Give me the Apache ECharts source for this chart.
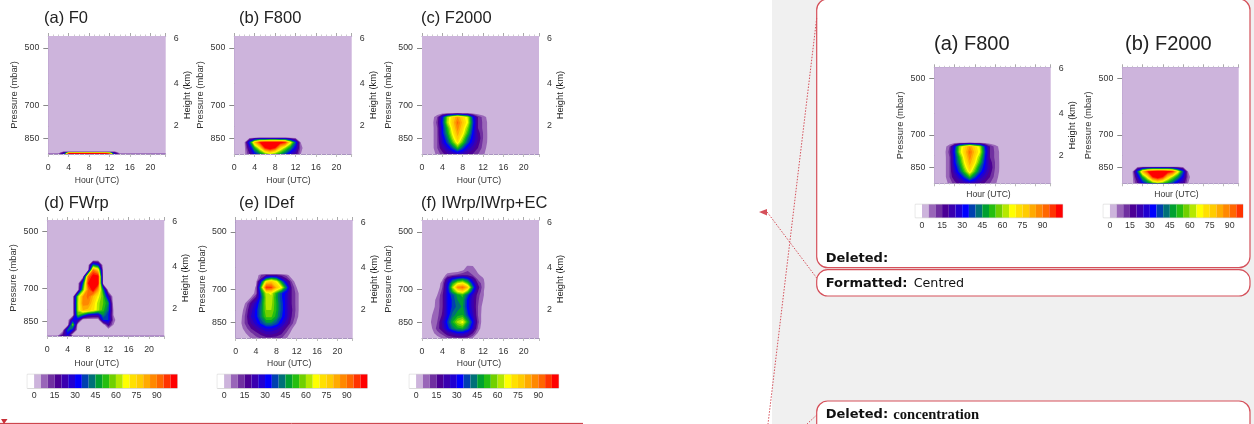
<!DOCTYPE html>
<html><head><meta charset="utf-8">
<style>html,body{margin:0;padding:0;background:#fff}#c{width:1254px;height:424px}</style>
<script src="https://cdn.jsdelivr.net/npm/echarts@6/dist/echarts.min.js"></script>
</head><body><div id="c"></div>
<script>
// colour scale: one colour per 5-unit band, from [-5,0) to [100,105)
const bandStarts = [-5,0,5,10,15,20,25,30,35,40,45,50,55,60,65,70,75,80,85,90,95,100];
const bandColors = ['#FFFFFF','#CDB4DC','#9966B8','#7030A0','#4B0095','#3A00B0','#2000D0','#0000FF','#0040B0','#007078','#00A030','#25BE10','#70D000','#B5E800','#FFFF00','#FFE000','#FFCC00','#FFAA00','#FF8800','#FF6600','#FF3300','#FF0000'];
const colorbarTicks = [0,15,30,45,60,75,90];
const pressureTicks = [500,700,850];
const heightTickPressures = [472,615,790];
const heightTickLabels = ['6','4','2'];
const hourTicks = [0,4,8,12,16,20];
const hours = [0,1,2,3,4,5,6,7,8,9,10,11,12,13,14,23];

// each field: pressure rows from the ground up, one row of values per pressure
const pF0 = [935,927,922,917];
const vF0 = [
 [20,20,20,20,102,102,102,102,102,102,102,102,102,20,20,20],
 [0,0,0,20,102,102,102,102,102,102,102,102,90,20,0,0],
 [0,0,0,18,20,20,20,20,20,20,20,20,20,18,0,0],
 [0,0,0,0,0,0,0,0,0,0,0,0,0,0,0,0]];
const pF800 = [935,900,870,845];
const vF800 = [
 [0,0,3,15,30,40,50,58,52,45,35,25,20,5,0,0],
 [0,0,3,25,50,70,100,110,100,75,60,45,30,8,0,0],
 [0,0,4,40,80,100,106,108,108,106,100,70,40,5,0,0],
 [0,0,0,0,0,0,0,0,0,0,0,0,0,0,0,0]];
const pF2000 = [935,900,870,850,825,800,775,750,732];
const vF2000 = [
 [0,0,1,7,12,18,20,22,22,18,14,10,6,2,0,0],
 [0,0,3,10,20,28,38,52,38,28,22,15,8,3,0,0],
 [0,0,3,10,26,38,55,72,55,38,28,18,9,4,0,0],
 [0,0,3,10,28,42,62,78,62,42,30,20,10,4,0,0],
 [0,0,3,10,32,48,68,83,70,52,32,18,10,4,0,0],
 [0,0,3,10,32,52,72,88,74,58,35,15,9,4,0,0],
 [0,0,3,12,35,62,76,92,78,66,38,15,9,4,0,0],
 [0,0,2,10,32,60,74,85,74,64,35,15,8,3,0,0],
 [0,0,0,0,0,0,0,0,0,0,0,0,0,0,0,0]];
const pFWrp = [935,920,895,868,843,819,796,764,735,706,679,653,628,610,592];
const vFWrp = [
 [20,20,20,20,20,20,20,20,20,20,20,20,20,20,20,20],
 [0,0,0,15,30,0,0,0,0,0,0,0,0,0,0,0],
 [0,0,0,0,42,30,0,0,0,0,0,0,0,0,0,0],
 [0,0,0,0,0,60,0,0,0,0,0,0,20,5,0,0],
 [0,0,0,0,0,30,28,0,0,0,0,35,35,8,0,0],
 [0,0,0,0,0,0,55,45,30,25,25,45,35,5,0,0],
 [0,0,0,0,0,0,62,80,78,72,62,52,40,5,0,0],
 [0,0,0,0,0,0,62,88,88,75,62,55,45,0,0,0],
 [0,0,0,0,0,0,60,85,92,80,68,55,25,0,0,0],
 [0,0,0,0,0,0,0,55,90,105,85,45,0,0,0,0],
 [0,0,0,0,0,0,0,40,100,105,105,0,0,0,0,0],
 [0,0,0,0,0,0,0,0,90,105,105,0,0,0,0,0],
 [0,0,0,0,0,0,0,0,0,90,75,0,0,0,0,0],
 [0,0,0,0,0,0,0,0,0,45,35,0,0,0,0,0],
 [0,0,0,0,0,0,0,0,0,0,0,0,0,0,0,0]];
const pIDef = [935,907,881,855,822,791,761,734,717,693,669,657,644,638];
const vIDef = [
 [0,0,0,5,8,10,12,12,12,10,5,0,0,0,0,0],
 [0,0,5,9,13,18,22,22,20,16,9,3,0,0,0,0],
 [0,3,8,15,20,26,30,30,27,22,14,6,0,0,0,0],
 [0,4,12,20,28,36,44,44,38,30,22,12,4,0,0,0],
 [0,3,12,25,32,44,56,56,48,36,27,15,7,0,0,0],
 [0,1,10,22,32,44,60,60,50,38,27,16,8,0,0,0],
 [0,0,6,18,28,42,62,62,50,38,27,15,8,0,0,0],
 [0,0,0,5,16,38,62,64,48,36,27,15,8,0,0,0],
 [0,0,0,0,8,42,64,66,50,36,28,15,8,0,0,0],
 [0,0,0,0,6,55,100,98,80,68,42,15,5,0,0,0],
 [0,0,0,0,3,35,72,78,68,45,25,10,0,0,0,0],
 [0,0,0,0,0,15,40,50,45,25,15,5,0,0,0,0],
 [0,0,0,0,0,10,15,15,15,12,8,0,0,0,0,0],
 [0,0,0,0,0,0,0,0,0,0,0,0,0,0,0,0]];
const pIWrp = [935,907,881,849,814,776,746,724,710,692,676,660,644,625,611,603];
const vIWrp = [
 [0,0,0,2,5,8,10,12,12,10,4,0,0,0,0,0],
 [0,0,3,8,12,20,24,28,28,24,15,4,0,0,0,0],
 [0,3,5,12,20,32,42,48,50,40,26,9,0,0,0,0],
 [0,2,6,10,22,36,50,62,68,50,32,12,1,0,0,0],
 [0,0,5,8,16,30,42,48,50,36,25,10,2,0,0,0],
 [0,0,3,7,14,30,36,42,46,32,22,10,3,0,0,0],
 [0,0,2,7,14,30,36,45,48,32,22,11,5,0,0,0],
 [0,0,0,5,14,30,38,48,52,38,24,12,6,0,0,0],
 [0,0,0,3,12,30,50,65,72,55,32,15,6,0,0,0],
 [0,0,0,0,10,30,62,88,92,78,42,18,7,0,0,0],
 [0,0,0,0,8,28,50,65,70,55,32,14,7,0,0,0],
 [0,0,0,0,4,22,35,42,46,38,22,9,6,0,0,0],
 [0,0,0,0,0,8,10,12,14,14,10,6,3,0,0,0],
 [0,0,0,0,0,0,0,0,4,9,8,3,0,0,0,0],
 [0,0,0,0,0,0,0,0,0,6,5,0,0,0,0,0],
 [0,0,0,0,0,0,0,0,0,0,0,0,0,0,0,0]];

const panels = [
 {title:'(a) F0',  p:pF0,  v:vF0,  box:[48.3,36,117.4,118], py:[466,932], ts:44, tc:18.3, fs:16.5, hs:10, ng:22},
 {title:'(b) F800',p:pF800,v:vF800,box:[234.3,36,117.4,118], py:[466,932], ts:239,tc:18.3, fs:16.5, hs:4.5, ng:22},
 {title:'(c) F2000',p:pF2000,v:vF2000,box:[422,36,117,118], py:[466,932], ts:421,tc:18.3, fs:16.5, hs:1.5, ng:22},
 {title:'(d) FWrp',p:pFWrp,v:vFWrp,box:[47.3,220,117,116], py:[468,927], ts:44, tc:203, fs:16.5, hs:9, ng:23.5},
 {title:'(e) IDef',p:pIDef,v:vIDef,box:[235.7,220,117,118], py:[466,932], ts:239,tc:203, fs:16.5, hs:5, ng:21.5},
 {title:'(f) IWrp/IWrp+EC',p:pIWrp,v:vIWrp,box:[422,220,117,118], py:[466,932], ts:421,tc:203, fs:16.5, hs:1.5, ng:21.5},
 {title:'(a) F800',p:pF2000,v:vF2000,box:[934.3,67.3,116.4,116], py:[468,934], ts:934,tc:44, fs:20, hs:4, ng:7, inner:true},
 {title:'(b) F2000',p:pF800,v:vF800,box:[1122.3,67.3,116.4,116], py:[468,934], ts:1125,tc:44, fs:20, hs:4, ng:7, inner:true, noRight:true}
];
const colorbars = [
 {box:[27.3,374.3,150,14], max:105},
 {box:[217.3,374.3,150,14], max:105},
 {box:[409.3,374.3,149.4,14], max:105},
 {box:[915.3,204.3,147.4,13.4], max:105},
 {box:[1103.3,204.3,139.7,13.4], max:100}
];

const FONT = '"Liberation Sans", Arial, sans-serif';
const TEXT = '#333333';
const EDGE = '#A994C0';

function clipQuad(pts, vals, L){
  const out = [];
  for (let i=0;i<4;i++){
    const j=(i+1)%4, a=vals[i], b=vals[j];
    if (a>=L) out.push(pts[i]);
    if ((a>=L)!==(b>=L)){
      const t=(L-a)/(b-a);
      out.push([pts[i][0]+t*(pts[j][0]-pts[i][0]), pts[i][1]+t*(pts[j][1]-pts[i][1])]);
    }
  }
  return out;
}
function contourRender(panel){
  return function(params, api){
    const L = api.value(0);
    const idx = bandStarts.indexOf(L);
    let d = '';
    for (let r=0;r<panel.p.length-1;r++){
      for (let c=0;c<hours.length-1;c++){
        const vals=[panel.v[r][c],panel.v[r][c+1],panel.v[r+1][c+1],panel.v[r+1][c]];
        if (Math.max.apply(null,vals)<L) continue;
        const pts=[
          api.coord([hours[c],panel.p[r]]),
          api.coord([hours[c+1],panel.p[r]]),
          api.coord([hours[c+1],panel.p[r+1]]),
          api.coord([hours[c],panel.p[r+1]])];
        const poly=clipQuad(pts,vals,L);
        if (poly.length<3) continue;
        d+='M'+poly.map(q=>q[0].toFixed(2)+' '+q[1].toFixed(2)).join('L')+'Z';
      }
    }
    if(!d) return;
    return {type:'path',shape:{pathData:d},style:{fill:bandColors[idx]}};
  };
}
function barRender(params, api){
  const s=api.value(0), i=bandStarts.indexOf(s);
  const a=api.coord([s,0]), b=api.coord([s+5,1]);
  return {type:'rect',shape:{x:a[0],y:b[1],width:b[0]-a[0],height:a[1]-b[1]},style:{fill:bandColors[i]}};
}

const option = {animation:false,backgroundColor:'#fff',textStyle:{fontFamily:FONT},
  grid:[],xAxis:[],yAxis:[],series:[],title:[],graphic:[]};
const contourLevels = bandStarts.filter(s=>s>=5);

panels.forEach(P=>{
  const g=option.grid.length;
  option.grid.push({left:P.box[0],top:P.box[1],width:P.box[2],height:P.box[3],show:true,backgroundColor:bandColors[1],borderWidth:0,z:1});
  const xi=option.xAxis.length, yi=option.yAxis.length;
  option.xAxis.push({gridIndex:g,type:'value',position:'bottom',min:0,max:23,interval:4,
    name:'Hour (UTC)',nameLocation:'middle',nameGap:P.ng,
    nameTextStyle:{fontSize:8.6,color:TEXT,padding:[0,2*P.hs,0,0]},
    axisLine:{show:true,lineStyle:{color:EDGE,width:1}},
    axisTick:{show:true,length:3,lineStyle:{color:'#BBB'}},
    minorTick:{show:true,splitNumber:4,length:1.5,lineStyle:{color:'#DDD'}},splitLine:{show:false},
    axisLabel:{show:!P.inner,fontSize:8.8,color:TEXT,margin:9,hideOverlap:false,customValues:hourTicks}});
  option.xAxis.push({gridIndex:g,type:'value',position:'top',min:0,max:23,interval:4,
    axisLine:{show:true,lineStyle:{color:EDGE,width:1}},
    axisTick:{show:true,length:3,lineStyle:{color:'#AAA'}},
    minorTick:{show:true,splitNumber:4,length:1.5,lineStyle:{color:'#CCC'}},
    axisLabel:{show:false},splitLine:{show:false}});
  option.yAxis.push({gridIndex:g,type:'log',position:'left',inverse:true,min:P.py[0],max:P.py[1],
    name:'Pressure (mbar)',nameLocation:'middle',nameGap:29,nameRotate:90,
    nameTextStyle:{fontSize:9.4,color:TEXT},
    axisLine:{show:true,lineStyle:{color:EDGE,width:1}},
    axisTick:{show:true,length:5,lineStyle:{color:'#888'},customValues:pressureTicks},
    axisLabel:{fontSize:8.8,color:TEXT,margin:9,customValues:pressureTicks,formatter:v=>String(Math.round(v))},
    splitLine:{show:false},minorTick:{show:false}});
  option.yAxis.push({gridIndex:g,type:'log',position:'right',inverse:true,min:P.py[0],max:P.py[1],
    name:P.noRight?'':'Height (km)',nameLocation:'middle',nameGap:17,nameRotate:90,
    nameTextStyle:{fontSize:9.4,color:'#222'},
    axisLine:{show:true,lineStyle:{color:EDGE,width:1}},
    axisTick:{show:true,length:4,lineStyle:{color:'#888'},customValues:heightTickPressures},
    axisLabel:{show:!P.noRight,fontSize:8.8,color:TEXT,margin:8,customValues:heightTickPressures,
      formatter:v=>{let best=0;heightTickPressures.forEach((q,i)=>{if(Math.abs(q-v)<Math.abs(heightTickPressures[best]-v))best=i;});return heightTickLabels[best];}},
    splitLine:{show:false},minorTick:{show:false}});
  option.series.push({type:'custom',coordinateSystem:'cartesian2d',xAxisIndex:xi,yAxisIndex:yi,clip:true,z:2,silent:true,
    renderItem:contourRender(P),data:contourLevels.map(l=>[l]),encode:{x:0}});
  option.title.push({text:P.title,left:P.ts,top:P.tc-P.fs/2,
    padding:0,textStyle:{fontSize:P.fs,fontWeight:'normal',color:'#222',fontFamily:FONT}});
});
colorbars.forEach(B=>{
  const g=option.grid.length, xi=option.xAxis.length, yi=option.yAxis.length;
  option.grid.push({left:B.box[0],top:B.box[1],width:B.box[2],height:B.box[3],show:true,backgroundColor:'#fff',borderColor:'#CFCFCF',borderWidth:1,z:1});
  option.xAxis.push({gridIndex:g,type:'value',min:-5,max:B.max,
    axisLine:{show:false},axisTick:{show:false},splitLine:{show:false},
    axisLabel:{fontSize:8.8,color:TEXT,margin:3,customValues:colorbarTicks}});
  option.yAxis.push({gridIndex:g,type:'value',min:0,max:1,show:false});
  option.series.push({type:'custom',coordinateSystem:'cartesian2d',xAxisIndex:xi,yAxisIndex:yi,clip:true,z:2,silent:true,
    renderItem:barRender,data:bandStarts.filter(s=>s<B.max).map(s=>[s]),encode:{x:0}});
});

// tracked-changes margin around the figure
const RED='#D5505A';
const txt=(x,y,t,f,w,c)=>({type:'text',x:x,y:y,z:5,style:{text:t,font:(w||'normal')+' '+f,fill:c||'#111',verticalAlign:'middle',align:'left'}});
const box=(y,h)=>({type:'rect',z:-1,shape:{x:816.7,y:y,width:433.3,height:h,r:11},style:{fill:'#fff',stroke:RED,lineWidth:1.2}});
const dotted=(x1,y1,x2,y2)=>({type:'line',z:3,shape:{x1,y1,x2,y2},style:{stroke:RED,lineWidth:1,lineDash:[1.5,1.5]}});
option.graphic=[{type:'group',silent:true,children:[
  {type:'rect',z:-2,shape:{x:772,y:0,width:482,height:424},style:{fill:'#F0F0F0'}},
  box(-1,268.7),box(269.7,26.3),box(401,50),
  dotted(816.7,18,768,424),
  dotted(816.7,278,766.7,211.5),
  dotted(816.7,415,807,424),
  {type:'polygon',z:3,shape:{points:[[759,212],[767,209],[767,215.5]]},style:{fill:RED}},
  {type:'line',z:3,shape:{x1:0,y1:423.4,x2:583,y2:423.4},style:{stroke:'#C83038',lineWidth:1}},
  {type:'polygon',z:3,shape:{points:[[1,419],[7.5,419],[4,424]]},style:{fill:'#C83038'}},
  txt(825.7,259,'Deleted:','13px "DejaVu Sans"','bold'),
  txt(825.7,284,'Formatted:','13px "DejaVu Sans"','bold'),
  txt(913.7,284,'Centred','12.7px "DejaVu Sans"','normal'),
  txt(825.7,415,'Deleted:','13px "DejaVu Sans"','bold'),
  txt(893.3,415.5,'concentration','14.6px "Liberation Serif"','bold')
]}];

const chart=echarts.init(document.getElementById('c'),null,{renderer:'canvas'});
chart.setOption(option);
</script></body></html>
